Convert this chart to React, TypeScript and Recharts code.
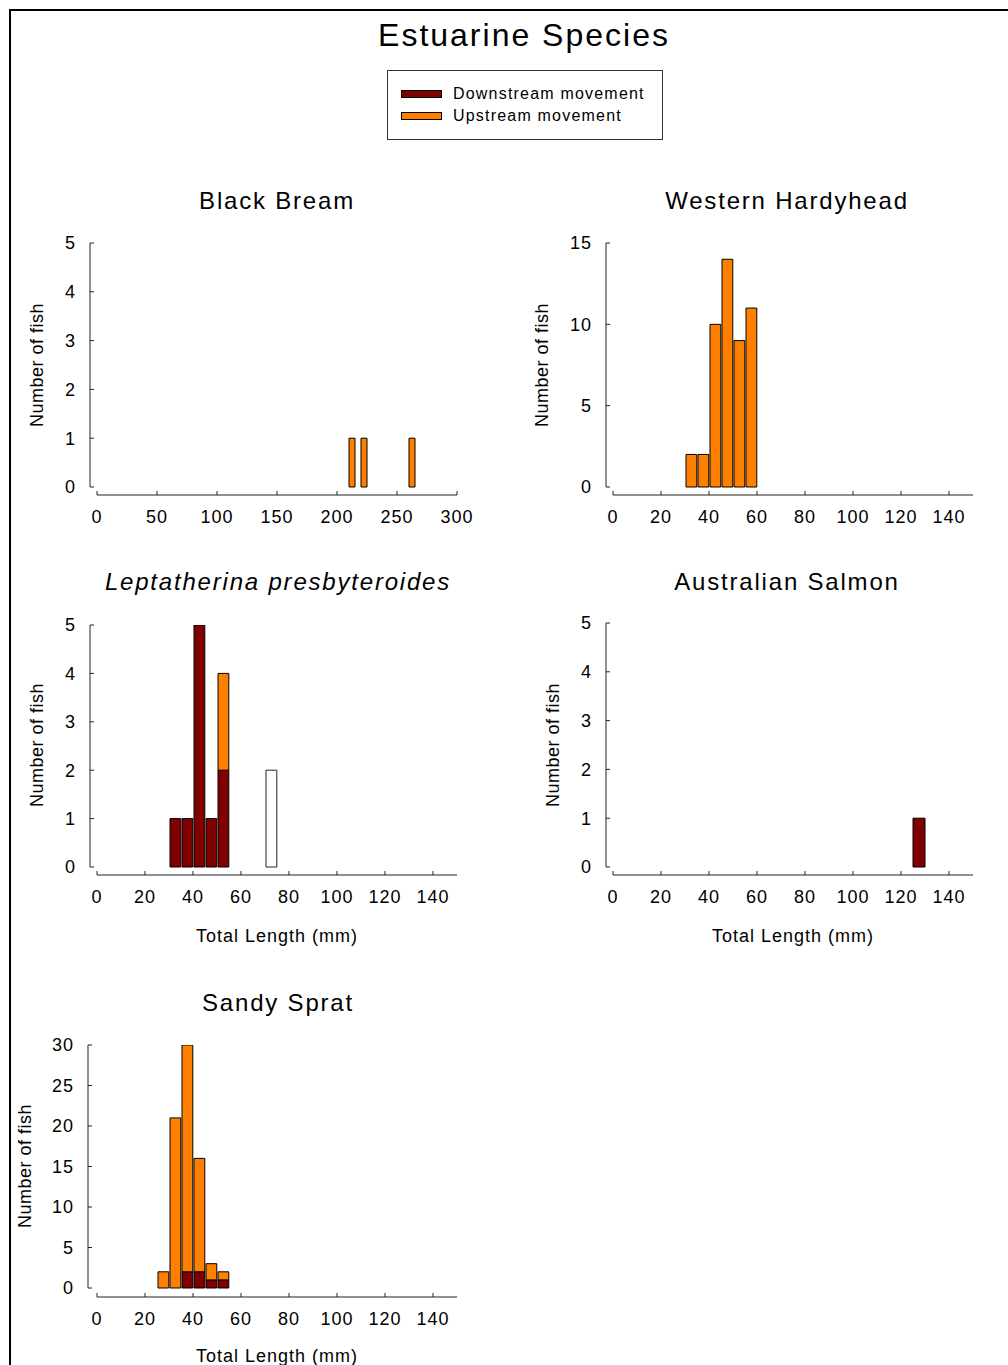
import React from 'react';
import { BarChart, Bar, XAxis, YAxis, ReferenceLine } from 'recharts';

// length bins (start of each 5 mm bin) and counts per movement direction
const breamBins = [210, 220, 260];
const breamDown = [0, 0, 0];
const breamUp = [1, 1, 1];

const hardyheadBins = [30, 35, 40, 45, 50, 55];
const hardyheadDown = [0, 0, 0, 0, 0, 0];
const hardyheadUp = [2, 2, 10, 14, 9, 11];

const leptaBins = [30, 35, 40, 45, 50, 70];
const leptaDown = [1, 1, 5, 1, 2, 0];
const leptaUp = [0, 0, 0, 0, 2, 0];
const leptaUnknown = [0, 0, 0, 0, 0, 2];

const salmonBins = [125];
const salmonDown = [1];
const salmonUp = [0];

const spratBins = [25, 30, 35, 40, 45, 50];
const spratDown = [0, 0, 2, 2, 1, 1];
const spratUp = [2, 21, 28, 14, 2, 1];

const lengthTicks = [0, 20, 40, 60, 80, 100, 120, 140];
const breamTicks = [0, 50, 100, 150, 200, 250, 300];
const countTicks5 = [0, 1, 2, 3, 4, 5];
const countTicks15 = [0, 5, 10, 15];
const countTicks30 = [0, 5, 10, 15, 20, 25, 30];

const BIN = 5;
const DOWN = '#800000';
const UP = '#ff8000';
const FONT = '"Liberation Sans", Arial, sans-serif';

type PanelProps = {
  bins: number[];
  down: number[];
  up: number[];
  other?: number[];
  xMax: number;
  xTicks: number[];
  yMax: number;
  yTicks: number[];
  axisX: number; // y-axis line (page px)
  zeroX: number; // x = 0
  rightX: number; // x = xMax
  topY: number; // y = yMax
  zeroY: number; // y = 0
  axisY: number; // x-axis line
};

const YW = 60;
const MT = 16;
const MR = 30;
const XH = 44;

const Panel: React.FC<PanelProps> = (p) => {
  const rows = p.bins.map((b, i) => ({
    x: b + BIN / 2,
    down: p.down[i],
    up: p.up[i],
    other: p.other ? p.other[i] : 0,
  }));
  const pxX = (p.rightX - p.zeroX) / p.xMax;
  const pxY = (p.zeroY - p.topY) / p.yMax;
  const xMin = -(p.zeroX - p.axisX) / pxX;
  const yMin = -(p.axisY - p.zeroY) / pxY;
  const width = YW + (p.rightX - p.axisX) + MR;
  const height = MT + (p.axisY - p.topY) + XH;
  const ay = height - XH;
  const barSize = BIN * pxX;

  const xTick = (t: any) => (
    <g>
      <line x1={t.x} x2={t.x} y1={ay} y2={ay - 4} stroke="#222" />
      <text x={t.x} y={ay + 22} dy="0.35em" textAnchor="middle" fontSize={18} letterSpacing={1} fill="#000" fontFamily={FONT}>
        {t.payload.value}
      </text>
    </g>
  );
  const yTick = (t: any) => (
    <g>
      <line x1={YW} x2={YW + 4} y1={t.y} y2={t.y} stroke="#222" />
      <text x={YW - 14} y={t.y} dy="0.35em" textAnchor="end" fontSize={18} letterSpacing={1} fill="#000" fontFamily={FONT}>
        {t.payload.value}
      </text>
    </g>
  );

  return (
    <div style={{ position: 'absolute', left: p.axisX - YW, top: p.topY - MT }}>
      <BarChart width={width} height={height} data={rows} margin={{ top: MT, right: MR, left: 0, bottom: 0 }} style={{ overflow: 'visible' }}>
        <XAxis
          dataKey="x"
          type="number"
          domain={[xMin, p.xMax]}
          allowDataOverflow
          ticks={p.xTicks}
          interval={0}
          axisLine={false}
          tickLine={false}
          height={XH}
          tick={xTick}
        />
        <YAxis
          type="number"
          domain={[yMin, p.yMax]}
          allowDataOverflow
          ticks={p.yTicks}
          interval={0}
          axisLine={false}
          tickLine={false}
          width={YW}
          tick={yTick}
        />
        <ReferenceLine segment={[{ x: 0, y: yMin }, { x: p.xMax, y: yMin }]} stroke="#222" ifOverflow="visible" />
        <ReferenceLine segment={[{ x: xMin, y: 0 }, { x: xMin, y: p.yMax }]} stroke="#222" ifOverflow="visible" />
        <Bar dataKey="down" stackId="a" fill={DOWN} stroke="#000" strokeWidth={1} barSize={barSize} isAnimationActive={false} />
        <Bar dataKey="up" stackId="a" fill={UP} stroke="#000" strokeWidth={1} barSize={barSize} isAnimationActive={false} />
        <Bar dataKey="other" stackId="a" fill="#fff" stroke="#222" strokeWidth={1} barSize={barSize} isAnimationActive={false} />
      </BarChart>
    </div>
  );
};

const Txt: React.FC<{ x: number; y: number; size: number; ls?: number; rotate?: boolean; italic?: boolean; children: React.ReactNode }> = ({ x, y, size, ls = 1, rotate, italic, children }) => (
  <div
    style={{
      position: 'absolute',
      left: x,
      top: y,
      transform: `translate(-50%, -50%)${rotate ? ' rotate(-90deg)' : ''}`,
      fontSize: size,
      letterSpacing: ls,
      fontStyle: italic ? 'italic' : 'normal',
      whiteSpace: 'nowrap',
      lineHeight: 1,
      color: '#000',
    }}
  >
    {children}
  </div>
);

export default function App() {
  return (
    <div style={{ position: 'absolute', left: 0, top: 0, width: 1008, height: 1365, overflow: 'hidden', background: '#fff', fontFamily: FONT }}>
      <div style={{ position: 'absolute', left: 9, top: 9, width: 1010, height: 1370, borderTop: '2px solid #000', borderLeft: '2px solid #000' }} />

      <Txt x={524} y={35} size={32} ls={2}>Estuarine Species</Txt>

      <div style={{ position: 'absolute', left: 387, top: 70, width: 274, height: 68, border: '1px solid #333' }}>
        <div style={{ position: 'absolute', left: 13, top: 19, width: 41, height: 8, background: DOWN, border: '1px solid #000', boxSizing: 'border-box' }} />
        <div style={{ position: 'absolute', left: 13, top: 41, width: 41, height: 8, background: UP, border: '1px solid #000', boxSizing: 'border-box' }} />
        <div style={{ position: 'absolute', left: 65, top: 14, fontSize: 16, letterSpacing: 1.2, lineHeight: '18px' }}>Downstream movement</div>
        <div style={{ position: 'absolute', left: 65, top: 36, fontSize: 16, letterSpacing: 1.2, lineHeight: '18px' }}>Upstream movement</div>
      </div>

      <Txt x={277} y={201} size={24} ls={1.8}>Black Bream</Txt>
      <Txt x={37} y={365} size={18} ls={0.5} rotate>Number of fish</Txt>
      <Panel bins={breamBins} down={breamDown} up={breamUp} xMax={300} xTicks={breamTicks} yMax={5} yTicks={countTicks5}
        axisX={90} zeroX={97} rightX={457} topY={243} zeroY={487} axisY={495} />

      <Txt x={787} y={201} size={24} ls={1.8}>Western Hardyhead</Txt>
      <Txt x={542} y={365} size={18} ls={0.5} rotate>Number of fish</Txt>
      <Panel bins={hardyheadBins} down={hardyheadDown} up={hardyheadUp} xMax={150} xTicks={lengthTicks} yMax={15} yTicks={countTicks15}
        axisX={606} zeroX={613} rightX={973} topY={243} zeroY={487} axisY={495} />

      <Txt x={278} y={582} size={24} ls={1.8} italic>Leptatherina presbyteroides</Txt>
      <Txt x={37} y={745} size={18} ls={0.5} rotate>Number of fish</Txt>
      <Panel bins={leptaBins} down={leptaDown} up={leptaUp} other={leptaUnknown} xMax={150} xTicks={lengthTicks} yMax={5} yTicks={countTicks5}
        axisX={90} zeroX={97} rightX={457} topY={625} zeroY={867} axisY={875} />
      <Txt x={277} y={936} size={18} ls={1}>Total Length (mm)</Txt>

      <Txt x={787} y={582} size={24} ls={1.8}>Australian Salmon</Txt>
      <Txt x={553} y={745} size={18} ls={0.5} rotate>Number of fish</Txt>
      <Panel bins={salmonBins} down={salmonDown} up={salmonUp} xMax={150} xTicks={lengthTicks} yMax={5} yTicks={countTicks5}
        axisX={606} zeroX={613} rightX={973} topY={623} zeroY={867} axisY={875} />
      <Txt x={793} y={936} size={18} ls={1}>Total Length (mm)</Txt>

      <Txt x={278} y={1003} size={24} ls={1.8}>Sandy Sprat</Txt>
      <Txt x={25} y={1166} size={18} ls={0.5} rotate>Number of fish</Txt>
      <Panel bins={spratBins} down={spratDown} up={spratUp} xMax={150} xTicks={lengthTicks} yMax={30} yTicks={countTicks30}
        axisX={88} zeroX={97} rightX={457} topY={1045} zeroY={1288} axisY={1297} />
      <Txt x={277} y={1356} size={18} ls={1}>Total Length (mm)</Txt>
    </div>
  );
}
